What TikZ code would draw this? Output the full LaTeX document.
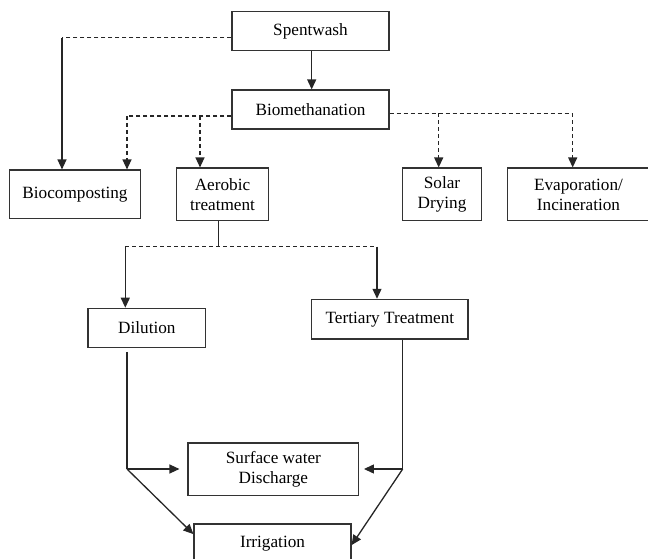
\documentclass[tikz,border=0pt]{standalone}
\usepackage{fontspec}
\setmainfont{Liberation Serif}
\usetikzlibrary{arrows.meta}
\begin{document}
\begin{tikzpicture}[x=1pt,y=-1pt,
  box/.style={draw=black!80, line width=1.2pt, inner sep=0pt, align=center,
    font=\fontsize{17.2}{20}\selectfont, text=black},
  tip/.style={-{Triangle[length=10pt,width=9pt]}},
  sol/.style={draw=black!85, line width=1.3pt, tip},
  ln/.style={draw=black!85, line width=1.3pt},
  dsh/.style={draw=black!85, line width=1.3pt, dash pattern=on 4pt off 3pt}]
\useasboundingbox (0,0) rectangle (648,559);

% nodes
\node[box, minimum width=157pt, minimum height=39pt] (sw) at (310.5,31.2) {Spentwash};
\node[box, minimum width=157pt, minimum height=39pt] (bm) at (310.5,109.5) {Biomethanation};
\node[box, minimum width=131.4pt, minimum height=48.3pt] (bc) at (75,194.2) {Biocomposting};
\node[box, minimum width=91.6pt, minimum height=52.7pt] (ae) at (222.5,194.4) {Aerobic\\treatment};
\node[box, minimum width=78.6pt, minimum height=52.7pt] (so) at (442,194.4) {Solar\\Drying};
\node[box, minimum width=141.6pt, minimum height=52.7pt] (ev) at (578.5,194.4) {Evaporation/\\Incineration};
\node[box, minimum width=117.7pt, minimum height=39pt] (di) at (146.9,327.8) {Dilution};
\node[box, minimum width=156.3pt, minimum height=39.7pt] (tt) at (389.9,319.2) {Tertiary Treatment};
\node[box, minimum width=170.7pt, minimum height=52.7pt] (sf) at (273.4,469.4) {Surface water\\Discharge};
\node[box, minimum width=157pt, minimum height=39pt] (ir) at (272.5,543.5) {Irrigation};

% coordinates
\coordinate (c1) at (62,37.7);
\coordinate (c2) at (127,116);
\coordinate (c3) at (200,116);
\coordinate (c4) at (438.7,113.3);
\coordinate (c5) at (572.7,113.3);
\coordinate (c6) at (218.7,246.7);
\coordinate (c7) at (125.3,246.7);
\coordinate (c8) at (377,246.7);
\coordinate (c9) at (127,469);
\coordinate (c10) at (402.7,469);

% Spentwash connectors
\draw[dsh] ([yshift=-6.5pt]sw.west) -- (c1);
\draw[sol] (c1) -- (c1 |- bc.north);
\draw[sol] (sw.south -| 311.7,0) -- (bm.north -| 311.7,0);

% Biomethanation connectors
\draw[dsh] ([yshift=-6.5pt]bm.west) -- (c2);
\draw[dsh, tip] (c2) -- (c2 |- bc.north);
\draw[dsh, tip] (c3) -- (c3 |- ae.north);
\draw[dsh] ([yshift=-3.8pt]bm.east) -- (c5);
\draw[dsh, tip] (c4) -- (c4 |- so.north);
\draw[dsh, tip] (c5) -- (c5 |- ev.north);

% Aerobic treatment connectors
\draw[ln] (c6 |- ae.south) -- (c6);
\draw[dsh] (c7) -- (c8);
\draw[sol] (c7) -- (c7 |- di.north);
\draw[sol] (c8) -- (c8 |- tt.north);

% Dilution connectors
\draw[ln, shorten <=4pt] (c9 |- di.south) -- (c9);
\draw[sol, shorten >=8pt] (c9) -- (c9 -| sf.west);
\draw[sol] (c9) -- ([yshift=-10.7pt]ir.north west);

% Tertiary treatment connectors
\draw[ln] (c10 |- tt.south) -- (c10);
\draw[sol, shorten >=4.6pt] (c10) -- (c10 -| sf.east);
\draw[sol] (c10) -- ([yshift=-21.7pt]ir.north east);
\end{tikzpicture}
\end{document}
